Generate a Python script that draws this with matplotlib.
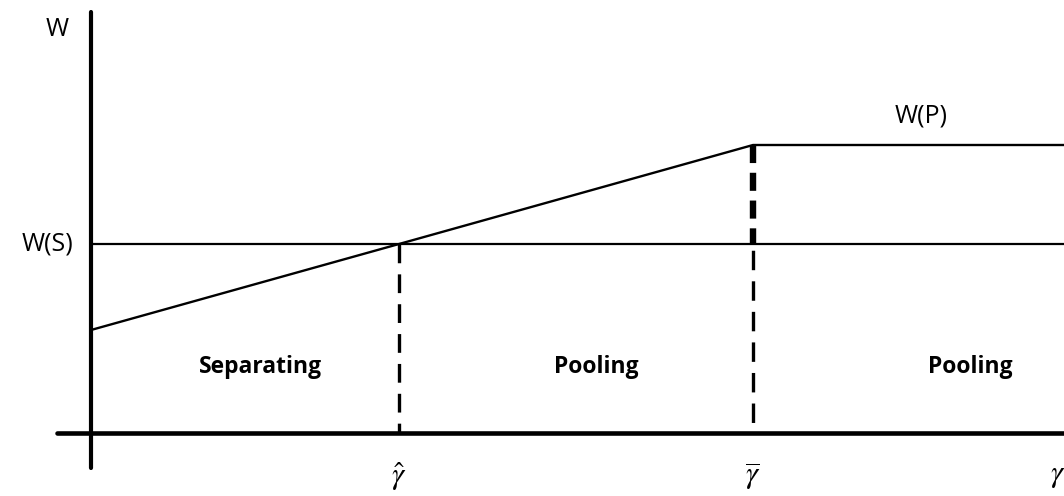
import matplotlib
matplotlib.use('Agg')
import matplotlib.pyplot as plt

plt.rcParams['mathtext.fontset'] = 'stix'
plt.rcParams['lines.scale_dashes'] = False

# schematic values (origin at axis crossing)
gamma_hat = 3.08
gamma_bar = 6.62
gamma_max = 9.73
w_start = 1.03
w_s = 1.89
w_p = 2.88

wp_x = [0, gamma_hat, gamma_bar, gamma_max]
wp_y = [w_start, w_s, w_p, w_p]

regions = ['Separating', 'Pooling', 'Pooling']
region_x = [1.70, 5.05, 8.79]
region_y = 0.66

fig = plt.figure(figsize=(10.64, 4.96), dpi=100)
ax = fig.add_axes([0, 0, 1, 1])
ax.set_xlim(-0.91, 9.73)
ax.set_ylim(-0.63, 4.33)
ax.axis('off')

# axes
ax.plot([0, 0], [-0.35, 4.21], color='black', lw=3.0, solid_capstyle='round')
ax.plot([-0.34, gamma_max], [0, 0], color='black', lw=3.3, solid_capstyle='round')

# W(S) line and W(P) curve
ax.plot([0, gamma_max], [w_s, w_s], color='black', lw=1.6)
ax.plot(wp_x, wp_y, color='black', lw=1.7)

# dashed verticals (drawn top-down)
ax.plot([gamma_hat, gamma_hat], [w_s, 0], color='black', lw=2.4,
        linestyle=(0, (13.5, 8)))
ax.plot([gamma_bar, gamma_bar], [w_p, w_s], color='black', lw=4.6,
        linestyle=(0, (13, 7)))
ax.plot([gamma_bar, gamma_bar], [w_s, 0], color='black', lw=2.4,
        linestyle=(-4.5, (14, 8)))

font = 'Open Sans'
ax.text(-0.34, 4.03, 'W', fontsize=18, family=font, ha='center', va='center')
ax.text(-0.18, w_s, 'W(S)', fontsize=18, family=font, ha='right', va='center')
ax.text(8.30, 3.17, 'W(P)', fontsize=18, family=font, ha='center', va='center')

for name, x in zip(regions, region_x):
    ax.text(x, region_y, name, fontsize=16.5, family=font, fontweight='bold',
            ha='center', va='center')

ax.text(gamma_hat, -0.44, r'$\hat{\gamma}$', fontsize=22, ha='center', va='center')
ax.text(gamma_bar, -0.44, r'$\overline{\gamma}$', fontsize=22, ha='center', va='center')
ax.text(9.67, -0.42, r'$\gamma$', fontsize=22, ha='center', va='center')

fig.savefig('out.png', dpi=100)
